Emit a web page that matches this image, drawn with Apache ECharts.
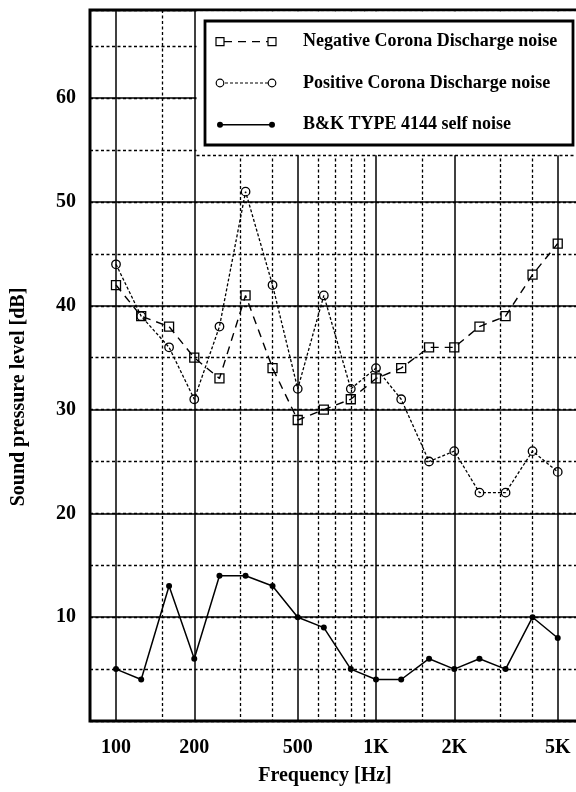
<!DOCTYPE html>
<html>
<head>
<meta charset="utf-8">
<script src="https://cdn.jsdelivr.net/npm/echarts@6/dist/echarts.min.js"></script>
<style>
  html, body { margin: 0; padding: 0; background: #fff; }
  #chart { width: 576px; height: 792px; }
</style>
</head>
<body>
<div id="chart"></div>
<script>
// ---- data ----
const freqs = [100, 125, 160, 200, 250, 315, 400, 500, 630, 800, 1000, 1250, 1600, 2000, 2500, 3150, 4000, 5000];
const negativeCorona = [42, 39, 38, 35, 33, 41, 34, 29, 30, 31, 33, 34, 36, 36, 38, 39, 43, 46];
const positiveCorona = [44, 39, 36, 31, 38, 51, 42, 32, 41, 32, 34, 31, 25, 26, 22, 22, 26, 24];
const selfNoise = [5, 4, 13, 6, 14, 14, 13, 10, 9, 5, 4, 4, 6, 5, 6, 5, 10, 8];
const seriesNames = ['Negative Corona Discharge noise', 'Positive Corona Discharge noise', 'B&K TYPE 4144 self noise'];
const majorFreqTicks = [100, 200, 500, 1000, 2000, 5000];
const minorFreqTicks = [150, 300, 400, 600, 700, 800, 900, 1500, 3000, 4000];
const xTitle = 'Frequency [Hz]';
const yTitle = 'Sound pressure level [dB]';

const FONT = '"Liberation Serif", "Times New Roman", serif';
const pairs = vals => freqs.map((f, i) => [f, vals[i]]);

const chart = echarts.init(document.getElementById('chart'), null, { renderer: 'canvas' });

const legendYs = [41.7, 83, 124.7];
const lx0 = 220, lx1 = 272;
const legendGraphics = [
  // white area hiding grid behind legend
  { type: 'rect', z: 100, shape: { x: 196.5, y: 11.5, width: 385, height: 143.8 }, style: { fill: '#fff', stroke: null } },
  { type: 'line', z: 101, shape: { x1: 196.5, y1: 155.5, x2: 580, y2: 155.5 }, style: { stroke: '#000', lineWidth: 1.3, lineDash: [3, 2.5] } },
  { type: 'rect', z: 102, shape: { x: 205, y: 21, width: 368, height: 124 }, style: { fill: '#fff', stroke: '#000', lineWidth: 2.8 } },
  // sample 1 : dashed with squares
  { type: 'line', z: 103, shape: { x1: lx0, y1: legendYs[0], x2: lx1, y2: legendYs[0] }, style: { stroke: '#000', lineWidth: 1.3, lineDash: [8, 6], lineDashOffset: -4 } },
  { type: 'rect', z: 104, shape: { x: lx0 - 4, y: legendYs[0] - 4, width: 8, height: 8 }, style: { fill: '#fff', stroke: '#000', lineWidth: 1.2 } },
  { type: 'rect', z: 104, shape: { x: lx1 - 4, y: legendYs[0] - 4, width: 8, height: 8 }, style: { fill: '#fff', stroke: '#000', lineWidth: 1.2 } },
  // sample 2 : dotted with circles
  { type: 'line', z: 103, shape: { x1: lx0, y1: legendYs[1], x2: lx1, y2: legendYs[1] }, style: { stroke: '#000', lineWidth: 1.2, lineDash: [3, 2] } },
  { type: 'circle', z: 104, shape: { cx: lx0, cy: legendYs[1], r: 3.8 }, style: { fill: '#fff', stroke: '#000', lineWidth: 1.2 } },
  { type: 'circle', z: 104, shape: { cx: lx1, cy: legendYs[1], r: 3.8 }, style: { fill: '#fff', stroke: '#000', lineWidth: 1.2 } },
  // sample 3 : solid with dots
  { type: 'line', z: 103, shape: { x1: lx0, y1: legendYs[2], x2: lx1, y2: legendYs[2] }, style: { stroke: '#000', lineWidth: 1.5 } },
  { type: 'circle', z: 104, shape: { cx: lx0, cy: legendYs[2], r: 3 }, style: { fill: '#000' } },
  { type: 'circle', z: 104, shape: { cx: lx1, cy: legendYs[2], r: 3 }, style: { fill: '#000' } }
];
seriesNames.forEach((n, i) => {
  legendGraphics.push({
    type: 'text', z: 105, x: 303, y: legendYs[i],
    style: { text: n, font: 'bold 18px ' + FONT, fill: '#000', verticalAlign: 'middle', align: 'left' }
  });
});
legendGraphics.push({
  type: 'text', z: 105, x: 325, y: 776,
  style: { text: xTitle, font: 'bold 20px ' + FONT, fill: '#000', align: 'center', verticalAlign: 'middle' }
});
legendGraphics.push({
  type: 'text', z: 105, x: 19, y: 397, rotation: Math.PI / 2,
  style: { text: yTitle, font: 'bold 20px ' + FONT, fill: '#000', align: 'center', verticalAlign: 'middle' }
});

const logMin = Math.pow(10, 1.9);
const logMax = Math.pow(10, 3.8);

const option = {
  animation: false,
  backgroundColor: '#fff',
  grid: {
    left: 90, top: 10, width: 494, height: 711,
    outerBoundsMode: 'none', containLabel: false,
    show: true, borderColor: '#000', borderWidth: 3, backgroundColor: 'transparent'
  },
  xAxis: [
    {
      type: 'log', logBase: 10, min: logMin, max: logMax,
      axisLine: { show: false },
      axisTick: { show: false, customValues: majorFreqTicks },
      axisLabel: {
        customValues: majorFreqTicks, margin: 17,
        fontFamily: FONT, fontWeight: 'bold', fontSize: 20, color: '#000',
        formatter: v => (v >= 1000 ? (v / 1000) + 'K' : String(v))
      },
      splitLine: { show: true, lineStyle: { color: '#000', width: 1.5, type: 'solid' } },
      minorSplitLine: { show: false }
    },
    {
      type: 'log', logBase: 10, min: logMin, max: logMax, position: 'bottom',
      axisLine: { show: false },
      axisTick: { show: false, customValues: minorFreqTicks },
      axisLabel: { show: false, customValues: minorFreqTicks },
      splitLine: { show: true, lineStyle: { color: '#000', width: 1.3, type: [3, 2.5] } }
    }
  ],
  yAxis: [
    {
      type: 'value', min: 0, max: 68.5, interval: 10,
      axisLine: { show: false }, axisTick: { show: false },
      axisLabel: {
        margin: 14, showMaxLabel: false,
        fontFamily: FONT, fontWeight: 'bold', fontSize: 20, color: '#000',
        formatter: v => (v > 0 && v % 10 === 0 ? String(v) : '')
      },
      splitLine: { show: true, lineStyle: { color: '#000', width: 1.5 } }
    },
    {
      type: 'value', min: 0, max: 68.5, interval: 5,
      axisLine: { show: false }, axisTick: { show: false }, axisLabel: { show: false },
      splitLine: { show: true, lineStyle: { color: '#000', width: 1.3, type: [3, 2.5] } }
    }
  ],
  series: [
    {
      name: seriesNames[0], type: 'line', data: pairs(negativeCorona),
      symbol: 'rect', symbolSize: 9,
      lineStyle: { color: '#000', width: 1.4, type: [8, 6] },
      itemStyle: { color: 'transparent', borderColor: '#000', borderWidth: 1.3 }
    },
    {
      name: seriesNames[1], type: 'line', data: pairs(positiveCorona),
      symbol: 'circle', symbolSize: 8.5,
      lineStyle: { color: '#000', width: 1.3, type: [3, 2] },
      itemStyle: { color: 'transparent', borderColor: '#000', borderWidth: 1.3 }
    },
    {
      name: seriesNames[2], type: 'line', data: pairs(selfNoise),
      symbol: 'circle', symbolSize: 6,
      lineStyle: { color: '#000', width: 1.5, type: 'solid' },
      itemStyle: { color: '#000', borderWidth: 0 }
    }
  ],
  graphic: legendGraphics
};

chart.setOption(option);
</script>
</body>
</html>
